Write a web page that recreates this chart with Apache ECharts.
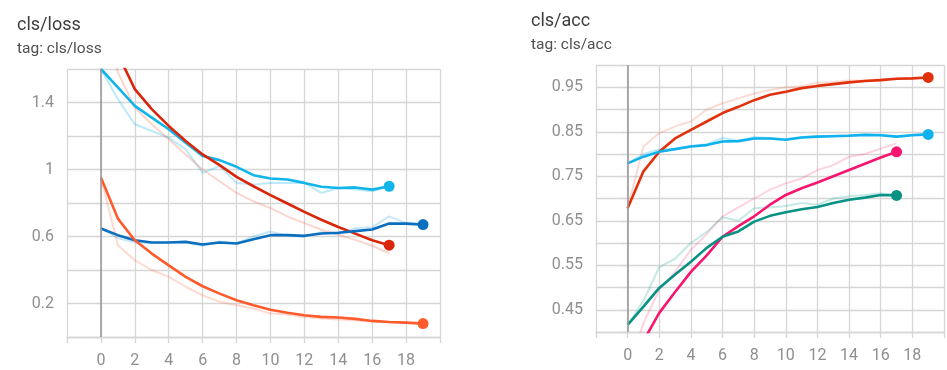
<!DOCTYPE html>
<html>
<head>
<meta charset="utf-8">
<script src="https://cdn.jsdelivr.net/npm/echarts@6/dist/echarts.min.js"></script>
<style>
html,body{margin:0;padding:0;background:#fff;}
#c{width:947px;height:370px;}
</style>
</head>
<body>
<div id="c"></div>
<script>
// ---- data ----
const steps = [0,1,2,3,4,5,6,7,8,9,10,11,12,13,14,15,16,17,18,19];
const xTickLabels = [0,2,4,6,8,10,12,14,16,18];
const lossYTickLabels = [0.2,0.6,1,1.4];
const accYTickLabels = [0.45,0.55,0.65,0.75,0.85,0.95];

const lossCyanSmooth = [1.60,1.49,1.38,1.31,1.24,1.16,1.08,1.056,1.016,0.966,0.946,0.94,0.92,0.897,0.89,0.893,0.88,0.90];
const lossCyanRaw    = [1.60,1.42,1.27,1.23,1.19,1.12,0.98,1.02,0.92,0.91,0.92,0.92,0.92,0.86,0.89,0.88,0.87,0.90];
const lossRedSmooth  = [1.95,1.69,1.48,1.36,1.26,1.17,1.09,1.026,0.956,0.90,0.847,0.797,0.747,0.70,0.657,0.617,0.578,0.548];
const lossRedRaw     = [1.95,1.58,1.37,1.27,1.18,1.09,1.0,0.93,0.86,0.81,0.77,0.72,0.68,0.64,0.61,0.58,0.545,0.50];
const lossBlueSmooth = [0.648,0.608,0.578,0.564,0.564,0.568,0.552,0.564,0.558,0.584,0.608,0.608,0.604,0.618,0.622,0.632,0.642,0.677,0.677,0.671];
const lossBlueRaw    = [0.648,0.59,0.565,0.56,0.565,0.565,0.545,0.57,0.56,0.60,0.63,0.605,0.60,0.625,0.615,0.65,0.655,0.72,0.68,0.67];
const lossOrangeSmooth = [0.952,0.707,0.578,0.498,0.428,0.359,0.303,0.259,0.219,0.189,0.163,0.145,0.13,0.12,0.116,0.108,0.096,0.09,0.086,0.08];
const lossOrangeRaw    = [0.952,0.548,0.458,0.40,0.359,0.30,0.249,0.21,0.19,0.17,0.14,0.135,0.12,0.11,0.105,0.10,0.093,0.088,0.085,0.08];

const accRedSmooth  = [0.678,0.761,0.805,0.835,0.854,0.873,0.892,0.906,0.921,0.933,0.94,0.948,0.953,0.957,0.961,0.964,0.966,0.969,0.970,0.972];
const accRedRaw     = [0.678,0.817,0.847,0.862,0.873,0.90,0.914,0.925,0.936,0.944,0.95,0.952,0.96,0.962,0.965,0.966,0.968,0.969,0.97,0.972];
const accCyanSmooth = [0.779,0.794,0.805,0.811,0.817,0.82,0.828,0.829,0.835,0.835,0.832,0.837,0.839,0.84,0.841,0.843,0.842,0.839,0.842,0.844];
const accCyanRaw    = [0.779,0.80,0.81,0.812,0.818,0.822,0.836,0.83,0.838,0.836,0.833,0.838,0.84,0.841,0.842,0.843,0.843,0.838,0.843,0.845];
const accPinkSmooth = [0.315,0.38,0.443,0.49,0.535,0.572,0.614,0.638,0.66,0.686,0.708,0.723,0.736,0.75,0.764,0.778,0.792,0.805];
const accPinkRaw    = [0.315,0.42,0.495,0.535,0.585,0.62,0.66,0.68,0.70,0.72,0.734,0.745,0.764,0.775,0.794,0.80,0.812,0.824];
const accTealSmooth = [0.416,0.457,0.499,0.529,0.558,0.589,0.614,0.626,0.648,0.661,0.669,0.676,0.681,0.69,0.697,0.702,0.708,0.707];
const accTealRaw    = [0.416,0.47,0.546,0.565,0.60,0.625,0.658,0.65,0.678,0.68,0.683,0.69,0.686,0.70,0.705,0.708,0.712,0.707];

// ---- helpers ----
const GRID_C = '#d6d6d6';
const LABEL_C = '#8f8f8f';
const LABEL_FONT = "'Roboto', sans-serif";

function pts(arr, withDot) {
  return arr.map((v, i) => (withDot && i === arr.length - 1)
    ? {value: [steps[i], v], symbol: 'circle', symbolSize: 11}
    : [steps[i], v]);
}
function rawSeries(arr, color, gi) {
  return {type: 'line', xAxisIndex: gi, yAxisIndex: gi, data: pts(arr, false),
    symbol: 'none', silent: true, z: 2,
    lineStyle: {color: color, width: 2, opacity: 0.28}};
}
function smoothSeries(arr, color, gi, extra) {
  const s = {type: 'line', xAxisIndex: gi, yAxisIndex: gi, data: pts(arr, true),
    symbol: 'none', showSymbol: true, silent: true, z: 4,
    lineStyle: {color: color, width: 2.6},
    itemStyle: {color: color, borderWidth: 0}};
  return Object.assign(s, extra || {});
}
function zeroLine() {
  return {markLine: {silent: true, symbol: 'none', label: {show: false},
    lineStyle: {color: '#9a9a9a', width: 1.6, type: 'solid'},
    data: [{xAxis: 0}]}};
}
function xAxisCfg(gi) {
  return {type: 'value', gridIndex: gi, min: -2, max: 20, interval: 2,
    axisLine: {show: true, lineStyle: {color: GRID_C, width: 1.3}},
    axisTick: {show: true, length: 6, lineStyle: {color: GRID_C, width: 1.3}},
    splitLine: {show: true, lineStyle: {color: GRID_C, width: 1.3}},
    axisLabel: {margin: 16, color: LABEL_C, fontSize: 16, fontFamily: LABEL_FONT,
      formatter: v => xTickLabels.indexOf(Math.round(v)) >= 0 ? String(Math.round(v)) : ''}};
}

const chart = echarts.init(document.getElementById('c'));
chart.setOption({
  animation: false,
  backgroundColor: '#ffffff',
  title: [
    {text: 'cls/loss', subtext: 'tag: cls/loss', left: 12, top: 9, itemGap: 4,
     textStyle: {fontFamily: 'Roboto', fontSize: 18, fontWeight: 'normal', color: '#3d3d3d', lineHeight: 22},
     subtextStyle: {fontFamily: 'Roboto', fontSize: 15.5, color: '#4f4f4f', lineHeight: 18}},
    {text: 'cls/acc', subtext: 'tag: cls/acc', left: 526, top: 5, itemGap: 4,
     textStyle: {fontFamily: 'Roboto', fontSize: 18, fontWeight: 'normal', color: '#3d3d3d', lineHeight: 22},
     subtextStyle: {fontFamily: 'Roboto', fontSize: 15.5, color: '#4f4f4f', lineHeight: 18}}
  ],
  grid: [
    {left: 67, top: 69, width: 373, height: 268},
    {left: 596, top: 65, width: 361, height: 267}
  ],
  xAxis: [xAxisCfg(0), xAxisCfg(1)],
  yAxis: [
    {type: 'value', gridIndex: 0, min: 0, max: 1.6, interval: 0.2,
     axisLine: {show: false},
     axisTick: {show: true, length: 6, lineStyle: {color: GRID_C, width: 1.3}},
     splitLine: {show: true, lineStyle: {color: GRID_C, width: 1.3}},
     axisLabel: {margin: 13, color: LABEL_C, fontSize: 16, fontFamily: LABEL_FONT,
       formatter: v => {const r = Math.round(v * 10) / 10; return lossYTickLabels.indexOf(r) >= 0 ? String(r) : '';}}},
    {type: 'value', gridIndex: 1, min: 0.4, max: 1.0, interval: 0.05,
     axisLine: {show: false},
     axisTick: {show: true, length: 6, lineStyle: {color: GRID_C, width: 1.3}},
     splitLine: {show: true, lineStyle: {color: GRID_C, width: 1.3}},
     axisLabel: {margin: 13, color: LABEL_C, fontSize: 16, fontFamily: LABEL_FONT,
       formatter: v => {const r = Math.round(v * 100) / 100; return accYTickLabels.indexOf(r) >= 0 ? r.toFixed(2) : '';}}}
  ],
  series: [
    rawSeries(lossCyanRaw, '#12b5ea', 0),
    rawSeries(lossRedRaw, '#f06a50', 0),
    rawSeries(lossBlueRaw, '#3aa9e8', 0),
    rawSeries(lossOrangeRaw, '#ff7a55', 0),
    smoothSeries(lossCyanSmooth, '#12b5ea', 0, zeroLine()),
    smoothSeries(lossRedSmooth, '#d9260b', 0),
    smoothSeries(lossBlueSmooth, '#0b6fbf', 0),
    smoothSeries(lossOrangeSmooth, '#ff5b2d', 0),

    rawSeries(accRedRaw, '#f08060', 1),
    rawSeries(accCyanRaw, '#0fb2ec', 1),
    rawSeries(accPinkRaw, '#f7608f', 1),
    rawSeries(accTealRaw, '#30b0a0', 1),
    smoothSeries(accRedSmooth, '#e0300c', 1, zeroLine()),
    smoothSeries(accCyanSmooth, '#0fb2ec', 1),
    smoothSeries(accPinkSmooth, '#f7156f', 1),
    smoothSeries(accTealSmooth, '#079283', 1)
  ]
});
</script>
</body>
</html>
